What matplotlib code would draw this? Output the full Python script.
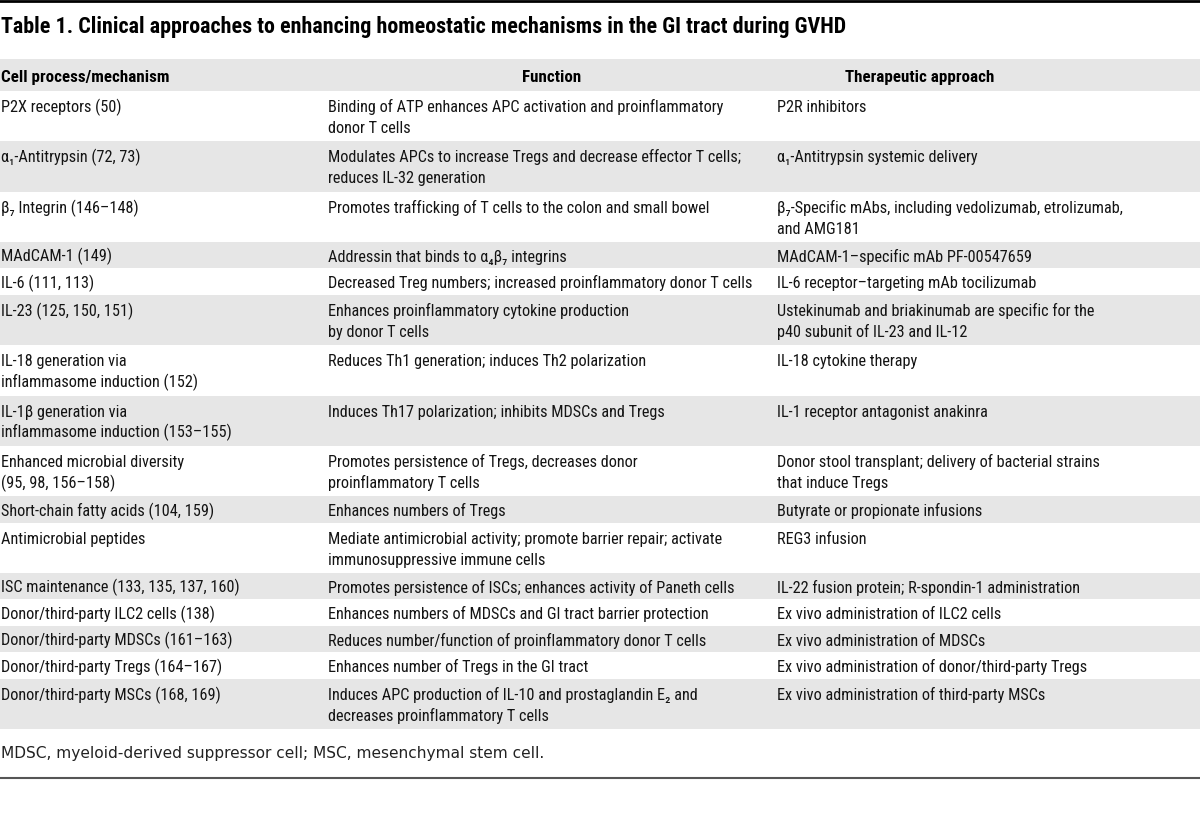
import matplotlib
matplotlib.use("Agg")
from matplotlib import pyplot as plt
from matplotlib import font_manager as fm
from matplotlib.patches import Rectangle

title = "Table 1. Clinical approaches to enhancing homeostatic mechanisms in the GI tract during GVHD"
headers = ["Cell process/mechanism", "Function", "Therapeutic approach"]

mechanisms = [
    "P2X receptors (50)",
    "α₁-Antitrypsin (72, 73)",
    "β₇ Integrin (146–148)",
    "MAdCAM-1 (149)",
    "IL-6 (111, 113)",
    "IL-23 (125, 150, 151)",
    "IL-18 generation via\ninflammasome induction (152)",
    "IL-1β generation via\ninflammasome induction (153–155)",
    "Enhanced microbial diversity\n(95, 98, 156–158)",
    "Short-chain fatty acids (104, 159)",
    "Antimicrobial peptides",
    "ISC maintenance (133, 135, 137, 160)",
    "Donor/third-party ILC2 cells (138)",
    "Donor/third-party MDSCs (161–163)",
    "Donor/third-party Tregs (164–167)",
    "Donor/third-party MSCs (168, 169)",
]

functions = [
    "Binding of ATP enhances APC activation and proinflammatory\ndonor T cells",
    "Modulates APCs to increase Tregs and decrease effector T cells;\nreduces IL-32 generation",
    "Promotes trafficking of T cells to the colon and small bowel",
    "Addressin that binds to α₄β₇ integrins",
    "Decreased Treg numbers; increased proinflammatory donor T cells",
    "Enhances proinflammatory cytokine production\nby donor T cells",
    "Reduces Th1 generation; induces Th2 polarization",
    "Induces Th17 polarization; inhibits MDSCs and Tregs",
    "Promotes persistence of Tregs, decreases donor\nproinflammatory T cells",
    "Enhances numbers of Tregs",
    "Mediate antimicrobial activity; promote barrier repair; activate\nimmunosuppressive immune cells",
    "Promotes persistence of ISCs; enhances activity of Paneth cells",
    "Enhances numbers of MDSCs and GI tract barrier protection",
    "Reduces number/function of proinflammatory donor T cells",
    "Enhances number of Tregs in the GI tract",
    "Induces APC production of IL-10 and prostaglandin E₂ and\ndecreases proinflammatory T cells",
]

therapies = [
    "P2R inhibitors",
    "α₁-Antitrypsin systemic delivery",
    "β₇-Specific mAbs, including vedolizumab, etrolizumab,\nand AMG181",
    "MAdCAM-1–specific mAb PF-00547659",
    "IL-6 receptor–targeting mAb tocilizumab",
    "Ustekinumab and briakinumab are specific for the\np40 subunit of IL-23 and IL-12",
    "IL-18 cytokine therapy",
    "IL-1 receptor antagonist anakinra",
    "Donor stool transplant; delivery of bacterial strains\nthat induce Tregs",
    "Butyrate or propionate infusions",
    "REG3 infusion",
    "IL-22 fusion protein; R-spondin-1 administration",
    "Ex vivo administration of ILC2 cells",
    "Ex vivo administration of MDSCs",
    "Ex vivo administration of donor/third-party Tregs",
    "Ex vivo administration of third-party MSCs",
]

footnote = "MDSC, myeloid-derived suppressor cell; MSC, mesenchymal stem cell."


def pick_narrow_font():
    # the original uses a condensed sans; take whatever narrow face is installed
    fonts = [(f.name, str(f.stretch)) for f in fm.fontManager.ttflist]
    names = {n for n, _ in fonts}
    for n in ["Liberation Sans Narrow", "Roboto Condensed", "Open Sans Condensed",
              "Noto Sans Condensed", "DejaVu Sans Condensed"]:
        if n in names:
            return n, "normal"
    for n in ["Roboto", "Noto Sans", "Open Sans", "DejaVu Sans", "Liberation Sans"]:
        for name, st in fonts:
            if name == n and "condensed" in st:
                return n, "condensed"
    return "Roboto", "normal"


narrow, stretch = pick_narrow_font()
plt.rcParams['font.family'] = [narrow, 'DejaVu Sans']
plt.rcParams['font.stretch'] = stretch

W, H = 1200, 825
GRAY = "#e6e6e6"
TXT = "#141414"
col_x = [1, 328, 777]
line_h = 21.0

fig = plt.figure(figsize=(12, 8.25), dpi=100)
ax = fig.add_axes([0, 0, 1, 1])
ax.set_xlim(0, W)
ax.set_ylim(H, 0)
ax.axis('off')
renderer = fig.canvas.get_renderer()


def fit_size(s, target, **kw):
    t = ax.text(0, 0, s, fontsize=10, **kw)
    w = t.get_window_extent(renderer).width
    t.remove()
    return 10 * target / w


fs = fit_size(functions[0].split("\n")[0], 394)
fs_head = fit_size(headers[0], 168, fontweight='bold')
fs_title = fit_size(title, 843, fontweight='bold')
fs_foot = fit_size(footnote, 540, family='DejaVu Sans', stretch='normal')

# top rule and title
ax.plot([0, W], [1, 1], color="black", lw=2)
ax.text(1, 33, title, fontsize=fs_title, fontweight='bold', va='baseline', ha='left', color="black")

# header band
ax.add_patch(Rectangle((0, 59), W, 32, color=GRAY, lw=0))
ax.text(col_x[0], 82, headers[0], fontsize=fs_head, fontweight='bold', va='baseline', ha='left')
ax.text(552, 82, headers[1], fontsize=fs_head, fontweight='bold', va='baseline', ha='center')
ax.text(920, 82, headers[2], fontsize=fs_head, fontweight='bold', va='baseline', ha='center')

# body rows
top = 91
for i, (m, f, t) in enumerate(zip(mechanisms, functions, therapies)):
    n = max(c.count("\n") + 1 for c in (m, f, t))
    h = 50.3 if n == 2 else 26.5
    if i % 2 == 1:
        ax.add_patch(Rectangle((0, top), W, h, color=GRAY, lw=0))
    first = top + h / 2 - (n - 1) * line_h / 2 + 6.5
    for x, cell in zip(col_x, (m, f, t)):
        for k, line in enumerate(cell.split("\n")):
            ax.text(x, first + k * line_h, line, fontsize=fs, va='baseline', ha='left', color=TXT)
    top += h

# footnote and bottom rule
ax.text(1, 758, footnote, fontsize=fs_foot, family='DejaVu Sans', stretch='normal',
        va='baseline', ha='left', color="#222222")
ax.plot([0, W], [778, 778], color="#555555", lw=1.5)

fig.savefig("out.png", dpi=100)
